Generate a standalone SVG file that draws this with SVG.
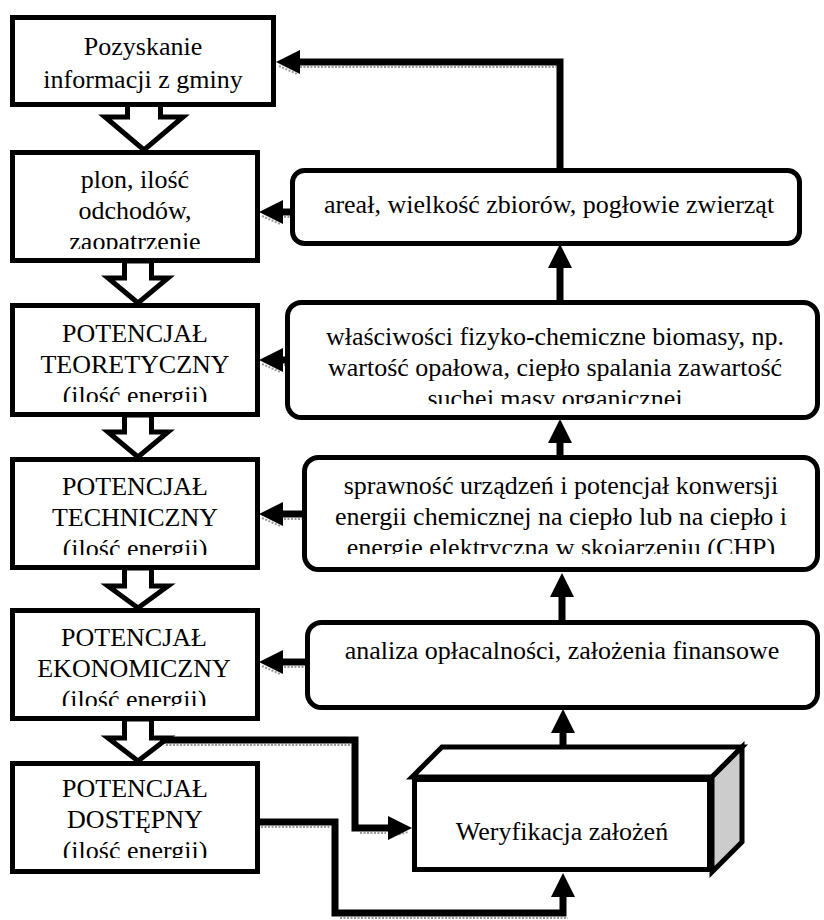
<svg xmlns="http://www.w3.org/2000/svg" width="824" height="920" viewBox="0 0 824 920">
<style>
.box{fill:#fff;stroke:#000;stroke-width:5}
.hol{fill:#fff;stroke:#000;stroke-width:5;stroke-linejoin:miter}
.t{font-family:"Liberation Serif","Times New Roman",serif;font-size:26px;fill:#000;text-anchor:middle}
.ln{fill:none;stroke:#000;stroke-width:7;stroke-linejoin:miter}
.sh{fill:none;stroke:#999;stroke-width:2;stroke-dasharray:2 1.5}
.ah{fill:#000}
</style>
<defs>
<clipPath id="c2"><rect x="10" y="150" width="250" height="99"/></clipPath>
<clipPath id="c3"><rect x="10" y="303" width="250" height="99"/></clipPath>
<clipPath id="c4"><rect x="10" y="457" width="250" height="98"/></clipPath>
<clipPath id="c5"><rect x="10" y="608" width="250" height="98"/></clipPath>
<clipPath id="c6"><rect x="10" y="761" width="250" height="97"/></clipPath>
<clipPath id="cr2"><rect x="285" y="300" width="535" height="104"/></clipPath>
<clipPath id="cr3"><rect x="302" y="455" width="518" height="99"/></clipPath>
</defs>

<g id="connectors">
<path class="hol" d="M127.5,104.5 V117 H105 L144,150 L183,117 H160.5 V104.5 Z"/>
<path class="hol" d="M124.5,261 V278 H108 L138,303 L168,278 H151.5 V261 Z"/>
<path class="hol" d="M124.5,415 V432 H108 L138,457 L168,432 H151.5 V415 Z"/>
<path class="hol" d="M124.5,568 V586 H108 L138,608 L168,586 H151.5 V568 Z"/>
<path class="hol" d="M124.5,719 V738 H108 L138,761 L168,738 H151.5 V719 Z"/>

<path class="sh" d="M300,67 H556 M279,66 L297,74"/>
<path class="ln" d="M560,170 V62 H298"/>
<polygon class="ah" points="276,62 300,50 300,74"/>

<path class="sh" d="M284,217 H290 M262,216 L280,224"/>
<path class="ln" d="M292,212 H280"/>
<polygon class="ah" points="259,212 283,200 283,224"/>
<path class="sh" d="M284,365 H286 M262,364 L280,372"/>
<path class="ln" d="M287,360 H280"/>
<polygon class="ah" points="259,360 283,348 283,372"/>
<path class="sh" d="M284,519 H302 M262,518 L280,526"/>
<path class="ln" d="M304,514 H280"/>
<polygon class="ah" points="259,514 283,502 283,526"/>
<path class="sh" d="M284,667 H305 M262,666 L280,674"/>
<path class="ln" d="M307,662 H280"/>
<polygon class="ah" points="259,662 283,650 283,674"/>

<path class="ln" d="M560,302 V265"/>
<polygon class="ah" points="560,244 548,268 572,268"/>
<path class="ln" d="M560,455 V440"/>
<polygon class="ah" points="560,419 548,443 572,443"/>
<path class="ln" d="M562,620 V595"/>
<polygon class="ah" points="562,573 550,597 574,597"/>
<path class="ln" d="M563,747 V731"/>
<polygon class="ah" points="563,709 551,733 575,733"/>

<path class="sh" d="M166,745 H350 M360,833 H386 M392,836 L408,832"/>
<path class="ln" d="M160,740 H355 V828 H392"/>
<polygon class="ah" points="412,828 388,816 388,840"/>
<path class="sh" d="M261,827 H330 M340,918 H568"/>
<path class="ln" d="M259,822 H335 V913 H563 V895"/>
<polygon class="ah" points="563,873 551,897 575,897"/>
</g>

<g id="n1">
<rect class="box" x="12.5" y="17.5" width="261" height="87"/>
<text class="t" x="143" y="55">Pozyskanie</text>
<text class="t" x="143" y="88">informacji z gminy</text>
</g>
<g id="n2">
<rect class="box" x="12.5" y="152.5" width="245" height="108"/>
<g clip-path="url(#c2)">
<text class="t" x="135" y="188">plon, ilość</text>
<text class="t" x="135" y="219">odchodów,</text>
<text class="t" x="135" y="250">zaopatrzenie</text>
</g>
</g>
<g id="n3">
<rect class="box" x="12.5" y="305.5" width="245" height="109"/>
<g clip-path="url(#c3)">
<text class="t" x="135" y="342">POTENCJAŁ</text>
<text class="t" x="135" y="373">TEORETYCZNY</text>
<text class="t" x="135" y="404">(ilość energii)</text>
</g>
</g>
<g id="n4">
<rect class="box" x="12.5" y="459.5" width="245" height="108"/>
<g clip-path="url(#c4)">
<text class="t" x="135" y="495">POTENCJAŁ</text>
<text class="t" x="135" y="526">TECHNICZNY</text>
<text class="t" x="135" y="557">(ilość energii)</text>
</g>
</g>
<g id="n5">
<rect class="box" x="12.5" y="610.5" width="245" height="108"/>
<g clip-path="url(#c5)">
<text class="t" x="134" y="646">POTENCJAŁ</text>
<text class="t" x="134" y="677">EKONOMICZNY</text>
<text class="t" x="134" y="708">(ilość energii)</text>
</g>
</g>
<g id="n6">
<rect class="box" x="12.5" y="763.5" width="245" height="108"/>
<g clip-path="url(#c6)">
<text class="t" x="135" y="797">POTENCJAŁ</text>
<text class="t" x="135" y="828">DOSTĘPNY</text>
<text class="t" x="135" y="859">(ilość energii)</text>
</g>
</g>

<g id="r1">
<rect class="box" x="292.5" y="170.5" width="507" height="73" rx="12"/>
<text class="t" x="549" y="213">areał, wielkość zbiorów, pogłowie zwierząt</text>
</g>
<g id="r2">
<rect class="box" x="287.5" y="302.5" width="530" height="115" rx="14"/>
<g clip-path="url(#cr2)">
<text class="t" x="555" y="345">właściwości fizyko-chemiczne biomasy, np.</text>
<text class="t" x="555" y="376">wartość opałowa, ciepło spalania zawartość</text>
<text class="t" x="555" y="407">suchej masy organicznej</text>
</g>
</g>
<g id="r3">
<rect class="box" x="304.5" y="457.5" width="513" height="112" rx="14"/>
<g clip-path="url(#cr3)">
<text class="t" x="561" y="494">sprawność urządzeń i potencjał konwersji</text>
<text class="t" x="561" y="525">energii chemicznej na ciepło lub na ciepło i</text>
<text class="t" x="561" y="556">energię elektryczną w skojarzeniu (CHP)</text>
</g>
</g>
<g id="r4">
<rect class="box" x="307.5" y="622.5" width="510" height="85" rx="14"/>
<text class="t" x="562" y="659">analiza opłacalności, założenia finansowe</text>
</g>

<g id="n7">
<polygon points="412,777 442,747 742,747 712,777" fill="#fff" stroke="#000" stroke-width="5" stroke-linejoin="miter"/>
<polygon points="712,777 742,747 742,842 712,872" fill="#ccc" stroke="#000" stroke-width="5" stroke-linejoin="miter"/>
<rect x="414.5" y="779.5" width="295" height="90" fill="#fff" stroke="#000" stroke-width="5"/>
<text class="t" x="562" y="840">Weryfikacja założeń</text>
</g>
</svg>
